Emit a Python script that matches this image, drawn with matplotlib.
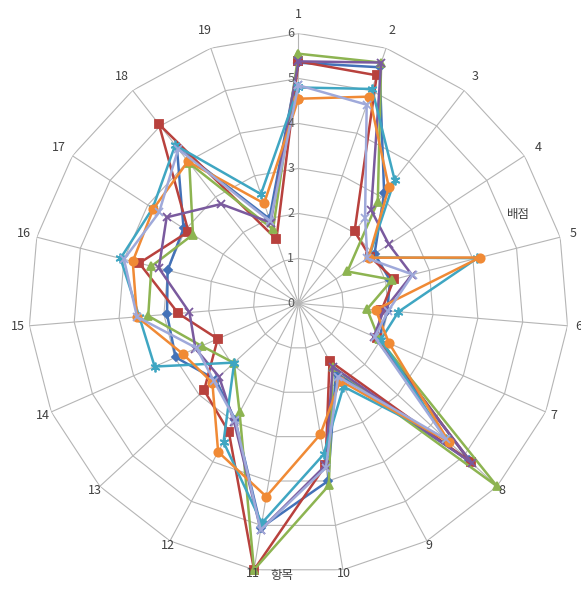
import numpy as np
import matplotlib
matplotlib.use("Agg")
import matplotlib.pyplot as plt

plt.rcParams["font.family"] = ["Noto Sans CJK KR", "DejaVu Sans"]

categories = [str(i) for i in range(1, 20)]
r_ticks = [0, 1, 2, 3, 4, 5, 6]

blue = [5.35, 5.55, 3.1, 2.02, 2.1, 1.98, 1.95, 5.15, 1.75, 4.0, 5.05, 2.95, 2.5, 2.98, 2.93, 3.0, 3.05, 4.4, 1.99]
red = [5.38, 5.36, 2.03, 1.9, 2.19, 1.85, 1.9, 5.2, 1.45, 3.65, 6.0, 3.25, 2.85, 1.96, 2.68, 3.65, 2.92, 5.05, 1.51]
green = [5.55, 5.66, 2.87, 1.3, 2.15, 1.53, 1.95, 6.0, 1.6, 4.1, 6.0, 2.75, 1.95, 2.35, 3.35, 3.37, 2.8, 3.95, 1.74]
purple = [5.38, 5.66, 2.63, 2.4, 2.6, 1.9, 1.83, 5.25, 1.6, 3.65, 5.1, 3.0, 2.4, 2.5, 2.43, 3.2, 3.5, 2.8, 1.9]
teal = [4.8, 5.04, 3.48, 1.87, 4.1, 2.23, 2.0, 4.45, 2.1, 3.4, 4.95, 3.5, 1.94, 3.49, 3.55, 4.08, 3.87, 4.46, 2.57]
orange = [4.55, 4.86, 3.27, 1.86, 4.16, 1.72, 2.2, 4.55, 1.95, 2.95, 4.35, 3.75, 2.6, 2.8, 3.6, 3.8, 3.85, 4.0, 2.35]
lavender = [4.85, 4.67, 2.41, 1.83, 2.62, 2.0, 1.85, 4.45, 1.85, 3.7, 5.1, 2.95, 2.55, 2.47, 3.6, 4.0, 3.7, 4.35, 1.93]

series = [blue, red, green, purple, teal, orange, lavender]
colors = ["#4372B8", "#B8413D", "#8DB451", "#7A5A9E", "#3FA6C2", "#F08A35", "#9FA9DA"]
markers = ["D", "s", "^", "x", (6, 2, 0), "o", "x"]
msizes = [4.5, 5.5, 5.5, 6, 7, 6, 6]

n = len(categories)
theta = np.arange(n) * 2 * np.pi / n
theta_closed = np.append(theta, theta[0])

fig = plt.figure(figsize=(5.81, 5.90), dpi=100)
ax = fig.add_axes([0.049, 0.028, 0.9294, 0.9153], projection="polar")
ax.set_theta_zero_location("N")
ax.set_theta_direction(-1)
ax.set_ylim(0, 6)
ax.spines["polar"].set_visible(False)
ax.set_facecolor("none")

# straight-sided rings instead of circles, plus the spokes
ax.yaxis.grid(False)
ax.set_yticks([])
ax.set_xticks(theta)
ax.set_xticklabels([])
ax.xaxis.grid(True, color="#B5B5B5", linewidth=0.8)
for r in r_ticks[1:]:
    ax.plot(theta_closed, [r] * (n + 1), color="#B5B5B5", linewidth=0.8, zorder=1)

for vals, col, mk, ms in zip(series, colors, markers, msizes):
    v = np.append(vals, vals[0])
    ax.plot(theta_closed, v, color=col, linewidth=1.8, marker=mk, markersize=ms,
            markeredgewidth=1.3, markeredgecolor=col, zorder=3, clip_on=False)

# radial value labels
for r in r_ticks:
    ax.annotate(str(r), xy=(0, r), xytext=(-3, 0), textcoords="offset points",
                ha="right", va="center", fontsize=9, color="#595959")

# category labels
for t, lab in zip(theta, categories):
    rr = 6.26 + 0.17 * np.cos(t)
    ax.text(t, rr, lab, ha="center", va="center", fontsize=9, color="#404040")

fig.text(518.5 / 581, 1 - 215 / 590, "배점", ha="center", va="center", fontsize=9, color="#404040")
fig.text(281.5 / 581, 1 - 576 / 590, "항목", ha="center", va="center", fontsize=9, color="#404040")

fig.savefig("out.png", dpi=100)
